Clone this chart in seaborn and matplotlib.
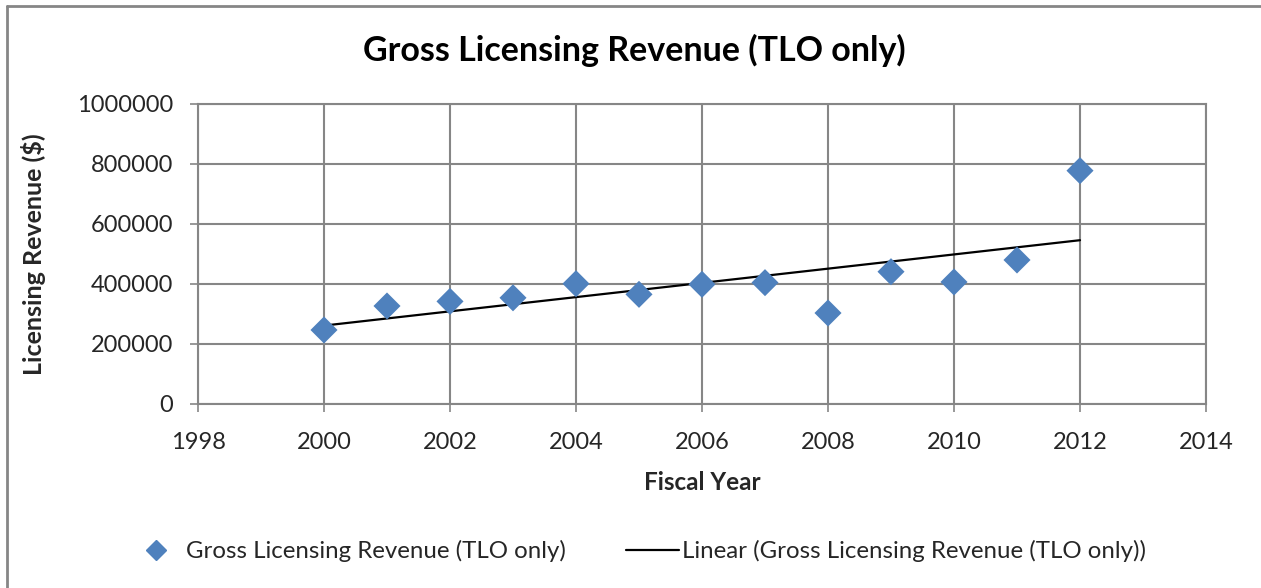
import numpy as np
import pandas as pd
import matplotlib
matplotlib.use('Agg')
import matplotlib.pyplot as plt
import seaborn as sns
from matplotlib.lines import Line2D

# data
years = [2000, 2001, 2002, 2003, 2004, 2005, 2006, 2007, 2008, 2009, 2010, 2011, 2012]
revenue = [246700, 326700, 342000, 354000, 401000, 365500, 398900,
           404500, 303300, 441000, 406700, 480000, 777800]
x_ticks = [1998, 2000, 2002, 2004, 2006, 2008, 2010, 2012, 2014]
y_ticks = [0, 200000, 400000, 600000, 800000, 1000000]

sns.set_style('white')
plt.rcParams['font.family'] = ['Lato', 'DejaVu Sans']

df = pd.DataFrame({'year': years, 'revenue': revenue})
# linear trendline, like Excel
slope, icpt = np.polyfit(df['year'], df['revenue'], 1)
df['trend'] = slope * df['year'] + icpt

W, H = 1261, 588
fig = plt.figure(figsize=(W / 100, H / 100), dpi=100)
ax = fig.add_axes([198 / W, 1 - 404 / H, (1206 - 198) / W, 300 / H])

grid_c = '#868686'
sns.lineplot(data=df, x='year', y='trend', color='black', linewidth=1.6, ax=ax, zorder=3)
sns.scatterplot(data=df, x='year', y='revenue', marker='D', color='#4F81BD',
                s=190, edgecolor='none', ax=ax, zorder=4)

ax.set_xlim(1998, 2014)
ax.set_ylim(0, 1000000)
ax.set_xticks(x_ticks)
ax.set_yticks(y_ticks)
ax.set_xticklabels([str(t) for t in x_ticks])
ax.set_yticklabels([str(t) for t in y_ticks])
ax.grid(True, color=grid_c, linewidth=1.5)
ax.set_axisbelow(True)
for s in ax.spines.values():
    s.set_color(grid_c)
    s.set_linewidth(1.5)
ax.tick_params(axis='both', which='both', direction='out', length=6, width=1.2,
               color=grid_c, labelsize=17, bottom=True, left=True)
ax.tick_params(axis='y', pad=12)
ax.tick_params(axis='x', pad=14)

ax.set_xlabel('Fiscal Year', fontsize=17.5, fontweight='bold', labelpad=13)
ax.set_ylabel('Licensing Revenue ($)', fontsize=18, fontweight='bold', labelpad=22)
fig.text(634 / W, 1 - 50 / H, 'Gross Licensing Revenue (TLO only)',
         fontsize=24.5, fontweight='bold', ha='center', va='center', color='black')

handles = [Line2D([], [], marker='D', color='#4F81BD', linestyle='none', markersize=10),
           Line2D([], [], color='black', linewidth=1.6)]
labels = ['Gross Licensing Revenue (TLO only)',
          'Linear (Gross Licensing Revenue (TLO only))']
fig.legend(handles, labels, loc='center', bbox_to_anchor=(638 / W, 1 - 551 / H),
           ncol=2, frameon=False, fontsize=17.3, columnspacing=2.5, handlelength=2.2,
           handletextpad=0.15)

# chart frame (only top and left edges show in the reference)
fig.add_artist(Line2D([6.5 / W, 1.0], [1 - 5.5 / H, 1 - 5.5 / H], transform=fig.transFigure,
                      color=grid_c, linewidth=2))
fig.add_artist(Line2D([6.5 / W, 6.5 / W], [0.0, 1 - 5.5 / H], transform=fig.transFigure,
                      color=grid_c, linewidth=2))

fig.savefig('out.png', dpi=100)
